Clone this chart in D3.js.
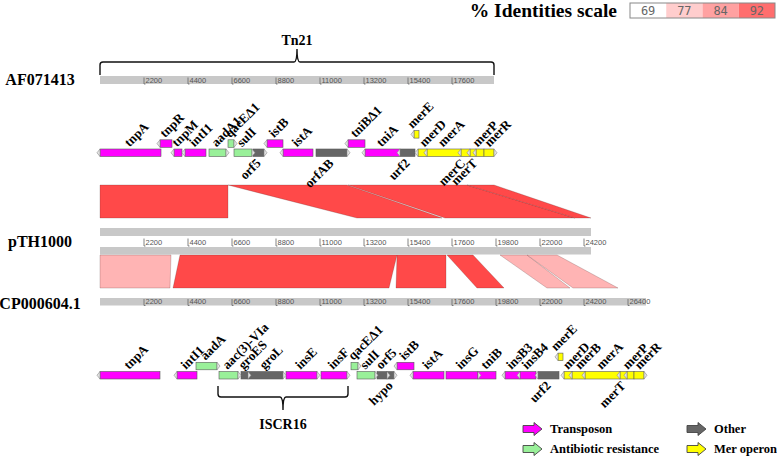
<!DOCTYPE html>
<html><head><meta charset="utf-8">
<script src="https://cdn.jsdelivr.net/npm/d3@7"></script>
<style>body{margin:0;background:#fff}svg{display:block}</style>
</head><body>
<script>
// ---------------- DATA ----------------
const seqNames   = ["AF071413", "pTH1000", "CP000604.1"];
const seqLengths = [19700, 24550, 27300];
const ticksAF  = [2200, 4400, 6600, 8800, 11000, 13200, 15400, 17600];
const ticksPTH = [2200, 4400, 6600, 8800, 11000, 13200, 15400, 17600, 19800, 22000, 24200];
const ticksCP  = [2200, 4400, 6600, 8800, 11000, 13200, 15400, 17600, 19800, 22000, 24200, 26400];

// [name, start, end, strand, type, lane, labelSide]
const genesAF = [
  ["tnpA", 0, 3050, -1, "T", 0, "up"],
  ["tnpR", 3000, 3600, -1, "T", 1, "up"],
  ["tnpM", 3700, 4100, -1, "T", 0, "up"],
  ["intI1", 4250, 5300, -1, "T", 0, "up"],
  ["aadA1", 5450, 6300, 1, "A", 0, "up"],
  ["qacEΔ1", 6400, 6700, 1, "A", 1, "up"],
  ["sulI", 6700, 7600, 1, "A", 0, "up"],
  ["orf5", 7650, 8200, 1, "O", 0, "down"],
  ["istB", 8350, 9150, -1, "T", 1, "up"],
  ["istA", 9150, 10650, -1, "T", 0, "up"],
  ["orfAB", 10800, 12350, 1, "O", 0, "down"],
  ["tniBΔ1", 12400, 13250, -1, "T", 1, "up"],
  ["tniA", 13250, 15000, -1, "T", 0, "up"],
  ["urf2", 15000, 15750, -1, "O", 0, "down"],
  ["merE", 15700, 15950, -1, "M", 2, "up"],
  ["merD", 15900, 16350, -1, "M", 0, "up"],
  ["merA", 16350, 18050, -1, "M", 0, "up"],
  ["merC", 18050, 18500, -1, "M", 0, "down"],
  ["merT", 18500, 18800, -1, "M", 0, "down"],
  ["merP", 18800, 19200, -1, "M", 0, "up"],
  ["merR", 19200, 19700, 1, "M", 0, "up"]
];
const genesCP = [
  ["tnpA", 0, 3000, -1, "T", 0, "up"],
  ["intI1", 3850, 4850, -1, "T", 0, "up"],
  ["aadA", 4800, 5850, 1, "A", 1, "up"],
  ["aac(3)-VIa", 5950, 6900, 1, "A", 0, "up"],
  ["groES", 7050, 7400, 1, "O", 0, "up"],
  ["groL", 7400, 9150, 1, "O", 0, "up"],
  ["insE", 9300, 10850, 1, "T", 0, "up"],
  ["insF", 11050, 12350, 1, "T", 0, "up"],
  ["qacEΔ1", 12550, 12900, 1, "A", 1, "up"],
  ["sulI", 12850, 13750, 1, "A", 0, "up"],
  ["orf5", 13850, 14350, 1, "O", 0, "up"],
  ["hypo", 14350, 14700, 1, "O", 0, "down"],
  ["istB", 14850, 15700, -1, "T", 1, "up"],
  ["istA", 15650, 17200, -1, "T", 0, "up"],
  ["insG", 17300, 18900, 1, "T", 0, "up"],
  ["tniB", 18900, 19800, 0, "T", 0, "up"],
  ["insB3", 20250, 21000, -1, "T", 0, "up"],
  ["insB4", 21000, 21800, -1, "T", 0, "up"],
  ["urf2", 21900, 22950, -1, "O", 0, "down"],
  ["merE", 22900, 23150, -1, "M", 2, "up"],
  ["merD", 23200, 23600, -1, "M", 0, "up"],
  ["merB", 23600, 24250, -1, "M", 0, "up"],
  ["merA", 24250, 26000, -1, "M", 0, "up"],
  ["merT", 26000, 26350, -1, "M", 0, "down"],
  ["merP", 26350, 26700, -1, "M", 0, "up"],
  ["merR", 26700, 27200, 1, "M", 0, "up"]
];

// BLAST hits [queryStart, queryEnd, subjectStart, subjectEnd, identity]
const hitsAFvsPTH = [
  [0, 6400, 0, 6400, 98],
  [6400, 12350, 12850, 17100, 98],
  [12400, 18350, 17250, 23750, 98],
  [18350, 19700, 23750, 24550, 98]
];
const hitsPTHvsCP = [
  [0, 3550, 0, 3500, 81],
  [4000, 14850, 3650, 14450, 98],
  [14850, 17300, 14800, 17300, 98],
  [17350, 18650, 18850, 20200, 98],
  [20000, 21350, 22350, 23500, 81],
  [21350, 22850, 23650, 25900, 81]
];

const identityLevels = [69, 77, 84, 92];
const brackets = [ ["Tn21", 0, 19700], ["ISCR16", 5900, 12400] ];
const geneTypes = ["T", "A", "O", "M"];
const typeNames = ["Transposon", "Antibiotic resistance", "Other", "Mer operon"];
const typeColors = ["#ff00ff", "#99f099", "#666666", "#ffff00"];

// ---------------- DRAW ----------------
const W = 777, H = 460;
const svg = d3.select("body").append("svg").attr("width", W).attr("height", H);
const x = d3.scaleLinear().domain([0, 1000]).range([100, 120]);
const color = d3.scaleOrdinal().domain(geneTypes).range(typeColors);
const idColor = d3.scaleLinear().domain([69, 100]).range(["#ffffff", "#ff3c3c"]);
const serif = "'Liberation Serif','Times New Roman',serif";

// sample names
const nameY = [85, 247, 309];
svg.selectAll("text.sname").data(seqNames).join("text")
  .attr("x", 40).attr("y", (d, i) => nameY[i])
  .attr("text-anchor", "middle").style("font", `bold 16px ${serif}`).text(d => d);

// rulers
function ruler(len, y, h, ticks, tickTop, tickBot, labY) {
  svg.append("rect").attr("x", x(0)).attr("y", y).attr("width", x(len) - x(0)).attr("height", h).attr("fill", "#c8c8c8");
  const g = svg.append("g");
  ticks.forEach(t => {
    g.append("path").attr("d", `M${x(t)},${tickTop}V${tickBot}h1.5`).attr("stroke", "#666").attr("stroke-width", 0.8).attr("fill", "none");
    g.append("text").attr("x", x(t) + 1.5).attr("y", labY).style("font", "7.5px 'Liberation Sans',Arial,sans-serif").attr("fill", "#555").text(t);
  });
}
ruler(seqLengths[0], 76, 8, ticksAF, 77.5, 84, 83);
svg.append("rect").attr("x", x(0)).attr("y", 228).attr("width", x(seqLengths[1]) - x(0)).attr("height", 8).attr("fill", "#c8c8c8");
ruler(seqLengths[1], 247, 7.5, ticksPTH, 238.5, 246, 245);
ruler(seqLengths[2], 298, 7.5, ticksCP, 299, 305.5, 304);

// hits
function hits(data, yT, yB) {
  svg.append("g").selectAll("polygon").data(data).join("polygon")
    .attr("points", d => [[x(d[0]), yT], [x(d[1]), yT], [x(d[3]), yB], [x(d[2]), yB]].join(" "))
    .attr("fill", d => idColor(d[4])).attr("stroke", "rgba(70,40,40,0.45)").attr("stroke-width", 0.5);
}
hits(hitsAFvsPTH, 185, 218);
hits(hitsPTHvsCP, 255, 288);

// genes
function spread(arr, gap) {
  const p = arr.map(d => d.c);
  for (let k = 0; k < 60; k++) {
    for (let i = 1; i < p.length; i++) {
      const dd = p[i] - p[i - 1];
      if (dd < gap) { const o = (gap - dd) / 2; p[i - 1] -= o; p[i] += o; }
    }
  }
  arr.forEach((d, i) => d.p = p[i]);
}
function genes(data, baseY) {
  const gh = 7.5;
  const g = svg.append("g");
  const items = data.map(d => ({ name: d[0], s: d[1], e: d[2], strand: d[3], type: d[4], lane: d[5], side: d[6] }));
  items.forEach(d => { d.y = baseY - d.lane * 9.2; d.x0 = x(d.s); d.x1 = x(d.e); d.c = (d.x0 + d.x1) / 2; });
  g.selectAll("rect").data(items).join("rect")
    .attr("x", d => d.x0).attr("y", d => d.y).attr("width", d => d.x1 - d.x0).attr("height", gh)
    .attr("fill", d => color(d.type)).attr("stroke", "#5a5a5a").attr("stroke-width", 0.6);
  g.selectAll("path.tip").data(items.filter(d => d.strand !== 0)).join("path")
    .attr("d", d => {
      const xe = d.strand < 0 ? d.x0 : d.x1, dir = d.strand < 0 ? -1 : 1;
      return `M${xe},${d.y}L${xe + dir * 3},${d.y + gh / 2}L${xe},${d.y + gh}Z`;
    })
    .attr("fill", "#e4e4e4").attr("stroke", "#888").attr("stroke-width", 0.6);
  const up = items.filter(d => d.side === "up").sort((a, b) => a.c - b.c);
  const dn = items.filter(d => d.side === "down").sort((a, b) => a.c - b.c);
  spread(up, 12); spread(dn, 12);
  g.selectAll("text.up").data(up).join("text")
    .attr("transform", d => `translate(${d.p - 1},${d.y - 1.5}) rotate(-45)`)
    .style("font", `bold 13px ${serif}`).text(d => d.name);
  g.selectAll("text.dn").data(dn).join("text")
    .attr("transform", d => `translate(${d.p + 3},${d.y + gh + 7.5}) rotate(-45)`)
    .attr("text-anchor", "end").style("font", `bold 13px ${serif}`).text(d => d.name);
}
genes(genesAF, 149);
genes(genesCP, 371.5);

// brackets
function bracket(b, yBase, yLine, yPeak, labY) {
  const a = x(b[1]), z = x(b[2]), m = (a + z) / 2, s = Math.sign(yLine - yBase), r = 3;
  const d = `M${a},${yBase}V${yLine - s * r}Q${a},${yLine} ${a + r},${yLine}H${m - 3}Q${m},${yLine} ${m},${yPeak}Q${m},${yLine} ${m + 3},${yLine}H${z - r}Q${z},${yLine} ${z},${yLine - s * r}V${yBase}`;
  svg.append("path").attr("d", d).attr("fill", "none").attr("stroke", "#111").attr("stroke-width", 1.4);
  svg.append("text").attr("x", m).attr("y", labY).attr("text-anchor", "middle").style("font", `bold 14px ${serif}`).text(b[0]);
}
bracket(brackets[0], 75, 62, 49, 45);
bracket(brackets[1], 386, 397, 410, 429);

// identity scale
svg.append("text").attr("x", 617).attr("y", 17).attr("text-anchor", "end").style("font", `bold 19.5px ${serif}`).text("% Identities scale");
const cx = d3.scaleBand().domain(identityLevels).range([630, 775]);
const sc = svg.append("g");
sc.selectAll("rect").data(identityLevels).join("rect")
  .attr("x", d => cx(d)).attr("y", 3).attr("width", cx.bandwidth()).attr("height", 15).attr("fill", d => idColor(d));
sc.append("rect").attr("x", 630).attr("y", 3).attr("width", 145).attr("height", 15).attr("fill", "none").attr("stroke", "#888").attr("stroke-width", 1);
sc.selectAll("text").data(identityLevels).join("text")
  .attr("x", d => cx(d) + cx.bandwidth() / 2).attr("y", 14.5).attr("text-anchor", "middle")
  .style("font", "12px 'DejaVu Sans Mono',monospace").attr("fill", "#666").text(d => d);

// legend
const legPos = [[523, 429], [523, 449], [687, 429], [687, 449]];
const lg = svg.append("g");
typeNames.forEach((t, i) => {
  const [lx, ly] = legPos[i];
  lg.append("path").attr("d", `M${lx},${ly - 3.5}H${lx + 11}V${ly - 6.5}L${lx + 19},${ly}L${lx + 11},${ly + 6.5}V${ly + 3.5}H${lx}Z`)
    .attr("fill", typeColors[i]).attr("stroke", "#444").attr("stroke-width", 0.9);
  lg.append("text").attr("x", lx + 27).attr("y", ly + 4).style("font", `bold 12.5px ${serif}`).text(t);
});
</script>
</body></html>
